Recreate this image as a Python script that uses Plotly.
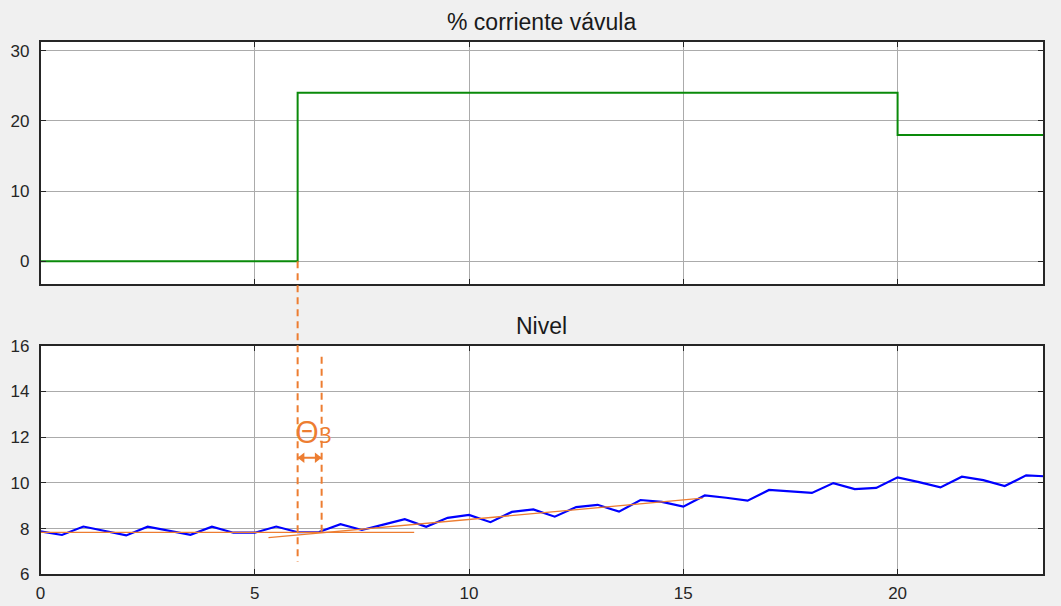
import plotly.graph_objects as go

# ---- data -------------------------------------------------------------
# valve current step (%)
valve_t = [0.0, 6.0, 6.0, 20.0, 20.0, 23.4]
valve_pct = [0.0, 0.0, 24.0, 24.0, 18.0, 18.0]

# level samples, every 0.5 s
level_t = [
    0.0, 0.5, 1.0, 1.5, 2.0, 2.5, 3.0, 3.5, 4.0, 4.5, 5.0, 5.5, 6.0, 6.5,
    7.0, 7.5, 8.0, 8.5, 9.0, 9.5, 10.0, 10.5, 11.0, 11.5, 12.0, 12.5, 13.0,
    13.5, 14.0, 14.5, 15.0, 15.5, 16.0, 16.5, 17.0, 17.5, 18.0, 18.5, 19.0,
    19.5, 20.0, 20.5, 21.0, 21.5, 22.0, 22.5, 23.0, 23.5,
]
level = [
    7.88, 7.72, 8.09, 7.89, 7.70, 8.08, 7.89, 7.73, 8.08, 7.82, 7.82, 8.09,
    7.84, 7.85, 8.19, 7.94, 8.17, 8.41, 8.08, 8.47, 8.60, 8.28, 8.73, 8.84,
    8.52, 8.94, 9.04, 8.74, 9.25, 9.17, 8.96, 9.45, 9.35, 9.22, 9.69, 9.62,
    9.56, 9.99, 9.73, 9.78, 10.24, 10.03, 9.80, 10.27, 10.12, 9.86, 10.33,
    10.28,
]

# graphical construction for the dead time
baseline_level = 7.83
baseline_t = [0.0, 8.72]
tangent_t = [5.32, 15.45]
tangent_level = [7.60, 9.33]
dead_start = 6.0
dead_end = 6.56
arrow_level = 11.1

x_ticks = [0, 5, 10, 15, 20]
top_y_ticks = [0, 10, 20, 30]
bottom_y_ticks = [6, 8, 10, 12, 14, 16]

# ---- layout geometry ----------------------------------------------------
W, H = 1061, 606
X_RANGE = [0, 23.4]
TOP_RANGE = [-3.28, 31.28]
BOT_RANGE = [6, 16]
x_dom = [40.5 / W, 1043.3 / W]
top_dom = [1 - 284.3 / H, 1 - 41.7 / H]
bot_dom = [1 - 574.3 / H, 1 - 345.7 / H]

ORANGE = "#ED7D31"
AX = "#262626"
GRID = "#ABABAB"
FONT = "Liberation Sans, Arial, sans-serif"

# data units per pixel along x (used to place arrow tips on the dashed lines)
x_per_px = (X_RANGE[1] - X_RANGE[0]) / ((x_dom[1] - x_dom[0]) * W)
HEAD = 9  # arrowhead marker size, px


def to_paper(v, rng, dom):
    return dom[0] + (v - rng[0]) / (rng[1] - rng[0]) * (dom[1] - dom[0])


fig = go.Figure()

fig.add_trace(go.Scatter(
    x=valve_t, y=valve_pct, mode="lines", xaxis="x", yaxis="y",
    line=dict(color="#0A8A0A", width=2), showlegend=False, hoverinfo="skip",
))
fig.add_trace(go.Scatter(
    x=level_t, y=level, mode="lines", xaxis="x2", yaxis="y2",
    line=dict(color="#0000FF", width=2.2), showlegend=False, hoverinfo="skip",
))
fig.add_trace(go.Scatter(
    x=baseline_t, y=[baseline_level, baseline_level], mode="lines",
    xaxis="x2", yaxis="y2", line=dict(color=ORANGE, width=1.3),
    showlegend=False, hoverinfo="skip",
))
fig.add_trace(go.Scatter(
    x=tangent_t, y=tangent_level, mode="lines", xaxis="x2", yaxis="y2",
    line=dict(color=ORANGE, width=1.3), showlegend=False, hoverinfo="skip",
))

# double-headed arrow spanning the dead time
fig.add_trace(go.Scatter(
    x=[dead_start, dead_end], y=[arrow_level, arrow_level], mode="lines",
    xaxis="x2", yaxis="y2", line=dict(color=ORANGE, width=2),
    showlegend=False, hoverinfo="skip",
))
fig.add_trace(go.Scatter(
    x=[dead_start + HEAD / 2 * x_per_px, dead_end - HEAD / 2 * x_per_px],
    y=[arrow_level, arrow_level], mode="markers", xaxis="x2", yaxis="y2",
    marker=dict(symbol=["triangle-left", "triangle-right"], size=HEAD,
                color=ORANGE, line=dict(width=0)),
    showlegend=False, hoverinfo="skip",
))

axis_common = dict(
    showline=True, linecolor=AX, linewidth=1.5, mirror="ticks",
    ticks="inside", ticklen=6, tickcolor=AX, tickwidth=1.2,
    showgrid=True, gridcolor=GRID, gridwidth=1.1, zeroline=False,
    tickfont=dict(family=FONT, size=17, color=AX), automargin=False,
)

fig.update_layout(
    width=W, height=H,
    margin=dict(l=0, r=0, t=0, b=0),
    paper_bgcolor="#F0F0F0", plot_bgcolor="#FFFFFF",
    xaxis=dict(domain=x_dom, range=X_RANGE, tickvals=x_ticks,
               showticklabels=False, anchor="y", **axis_common),
    yaxis=dict(domain=top_dom, range=TOP_RANGE, tickvals=top_y_ticks,
               anchor="x", ticklabelstandoff=6, **axis_common),
    xaxis2=dict(domain=x_dom, range=X_RANGE, tickvals=x_ticks,
                anchor="y2", ticklabelstandoff=3, **axis_common),
    yaxis2=dict(domain=bot_dom, range=BOT_RANGE, tickvals=bottom_y_ticks,
                anchor="x2", ticklabelstandoff=6, **axis_common),
)

# dashed marker at the step instant, running from the top panel into the bottom one
fig.add_shape(
    type="line", xref="x", yref="paper",
    x0=dead_start, x1=dead_start,
    y0=to_paper(0, TOP_RANGE, top_dom), y1=to_paper(6.55, BOT_RANGE, bot_dom),
    line=dict(color=ORANGE, width=2, dash="7px,5px"),
)
# dashed marker where the tangent leaves the baseline
fig.add_shape(
    type="line", xref="x2", yref="y2",
    x0=dead_end, x1=dead_end, y0=15.52, y1=baseline_level,
    line=dict(color=ORANGE, width=2, dash="7px,5px"),
)

# dead-time label: large theta with a smaller 3 sitting just after it
fig.add_annotation(
    x=dead_start - 0.1, y=12.25, xref="x2", yref="y2",
    xanchor="left", yanchor="middle", showarrow=False,
    text="Θ<span style='font-size:22px'>3</span>",
    font=dict(family="Open Sans, sans-serif", size=31, color=ORANGE),
)

# panel titles
fig.add_annotation(
    x=(x_dom[0] + x_dom[1]) / 2, y=1 - 22 / H, xref="paper", yref="paper",
    text="% corriente vávula", showarrow=False,
    font=dict(family=FONT, size=23, color="#1A1A1A"),
    xanchor="center", yanchor="middle",
)
fig.add_annotation(
    x=(x_dom[0] + x_dom[1]) / 2, y=1 - 326 / H, xref="paper", yref="paper",
    text="Nivel", showarrow=False,
    font=dict(family=FONT, size=23, color="#1A1A1A"),
    xanchor="center", yanchor="middle",
)

fig.write_html("out.html")
